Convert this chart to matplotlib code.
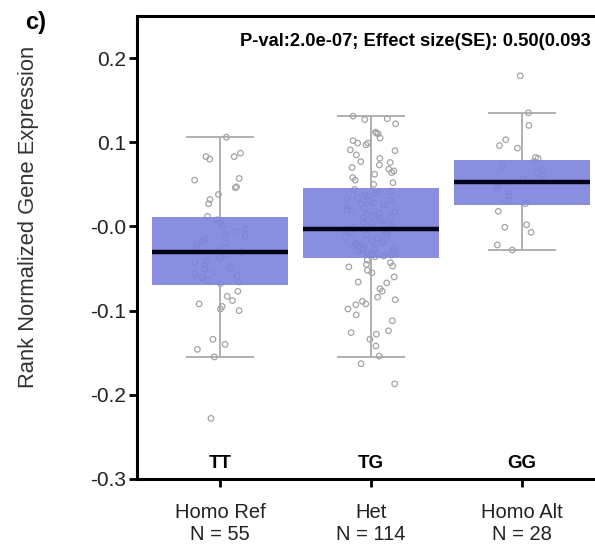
import numpy as np
import matplotlib
matplotlib.use("Agg")
import matplotlib.pyplot as plt

plt.rcParams['font.family'] = ['Liberation Sans', 'DejaVu Sans']

# genotype groups
groups = ["Homo Ref\nN = 55", "Het\nN = 114", "Homo Alt\nN = 28"]
genotypes = ["TT", "TG", "GG"]

# box summary (whisker low, Q1, median, Q3, whisker high)
whislo = [-0.155, -0.155, -0.028]
q1 = [-0.069, -0.037, 0.025]
med = [-0.030, -0.003, 0.053]
q3 = [0.011, 0.046, 0.079]
whishi = [0.106, 0.131, 0.135]

# individual samples per genotype
tt_vals = [0.106, 0.087, 0.083, 0.083, 0.080, 0.057, 0.055, 0.047, 0.046, 0.038,
           0.032, 0.027, 0.012,
           0.008, 0.004, 0.001, -0.003, -0.006, -0.009, -0.012, -0.015, -0.017, -0.020,
           -0.022, -0.025, -0.027, -0.029, -0.031, -0.033, -0.036, -0.038, -0.041, -0.043,
           -0.046, -0.049, -0.051, -0.054, -0.056, -0.059, -0.061, -0.064, -0.066, -0.068,
           -0.077, -0.083, -0.088, -0.092, -0.095, -0.098, -0.100, -0.134, -0.140, -0.146,
           -0.155, -0.228]
tg_vals = [0.131, 0.128, 0.127, 0.122, 0.112, 0.111, 0.110, 0.105, 0.102, 0.099,
           0.099, 0.097, 0.091, 0.090, 0.085, 0.081, 0.077, 0.076, 0.073, 0.070,
           0.068, 0.066, 0.064, 0.062, 0.058, 0.055, 0.052, 0.050,
           0.044, 0.042, 0.041, 0.039, 0.038, 0.036, 0.034, 0.033, 0.031, 0.030,
           0.028, 0.027, 0.025, 0.024, 0.022, 0.020, 0.019, 0.017, 0.016, 0.014,
           0.013, 0.011, 0.010, 0.008, 0.007, 0.005, 0.004, 0.002, 0.001, -0.001,
           -0.002, -0.004, -0.005, -0.007, -0.008, -0.010, -0.011, -0.013, -0.014, -0.016,
           -0.017, -0.019, -0.020, -0.021, -0.022, -0.023, -0.025, -0.026, -0.027, -0.028,
           -0.029, -0.030, -0.031, -0.032, -0.033, -0.033, -0.034, -0.035, -0.036,
           -0.040, -0.043, -0.045, -0.047, -0.048, -0.052, -0.055, -0.060, -0.066, -0.067,
           -0.074, -0.077, -0.084, -0.087, -0.089, -0.092, -0.093, -0.098, -0.105, -0.112,
           -0.124, -0.126, -0.128, -0.134, -0.142, -0.154, -0.163, -0.187]
gg_vals = [0.179, 0.135, 0.120, 0.103, 0.096, 0.093, 0.082, 0.081,
           0.077, 0.072, 0.068, 0.064, 0.060, 0.057, 0.054, 0.052, 0.048, 0.045,
           0.040, 0.036, 0.031, 0.027,
           0.018, 0.002, -0.001, -0.007, -0.022, -0.028]
samples = [tt_vals, tg_vals, gg_vals]

ytick_vals = [0.2, 0.1, 0.0, -0.1, -0.2, -0.3]
ytick_labels = ["0.2", "0.1", "-0.0", "-0.1", "-0.2", "-0.3"]

W, H = 595, 548
fig = plt.figure(figsize=(W / 100, H / 100), dpi=100)
# axes runs a little past the right edge of the figure
ax = fig.add_axes([137 / W, 69 / H, 468 / W, 463 / H])

# jittered points first, boxes sit on top of them
rng = np.random.default_rng(7)
for i, vals in enumerate(samples):
    xs = i + rng.uniform(-0.17, 0.17, len(vals))
    ax.scatter(xs, vals, s=16, facecolors='none', edgecolors='#a4a4a4',
               linewidths=0.9, zorder=2)

stats = []
for i in range(3):
    stats.append(dict(whislo=whislo[i], q1=q1[i], med=med[i], q3=q3[i],
                      whishi=whishi[i], fliers=[]))
bp = ax.bxp(stats, positions=[0, 1, 2], widths=0.9, capwidths=0.44,
            patch_artist=True, showfliers=False,
            boxprops=dict(facecolor='#7d82dd', edgecolor='none', alpha=0.9),
            whiskerprops=dict(color='#b0b0b0', linewidth=1.4),
            capprops=dict(color='#b0b0b0', linewidth=1.4),
            medianprops=dict(color='#03031a', linewidth=3.2))
for b in bp['boxes']:
    b.set_zorder(3)
for m in bp['medians']:
    m.set_zorder(4)
for w in bp['whiskers'] + bp['caps']:
    w.set_zorder(1)

for i, g in enumerate(genotypes):
    ax.text(i, -0.281, g, ha='center', va='center', fontsize=13.5,
            fontweight='bold')

ax.set_xlim(-0.55, 2.55)
ax.set_ylim(-0.3, 0.25)
ax.set_xticks([0, 1, 2])
ax.set_xticklabels(groups, fontsize=14.5, color='#222222')
ax.set_yticks(ytick_vals)
ax.set_yticklabels(ytick_labels, fontsize=15, color='#222222')
ax.tick_params(axis='x', length=6, width=2, pad=11)
ax.tick_params(axis='y', length=6, width=2, pad=2)
for side in ['top', 'left', 'bottom', 'right']:
    ax.spines[side].set_linewidth(2.2)

fig.text(29 / W, 1 - 217 / H, "Rank Normalized Gene Expression", rotation=90,
         ha='center', va='center', fontsize=15.8, color='#333333')
fig.text(25 / W, 1 - 23 / H, "c)", ha='left', va='center', fontsize=17,
         fontweight='bold')
fig.text(240 / W, 1 - 41 / H, "P-val:2.0e-07; Effect size(SE): 0.50(0.093",
         ha='left', va='center', fontsize=13.2, fontweight='bold')

fig.savefig("out.png", dpi=100)
